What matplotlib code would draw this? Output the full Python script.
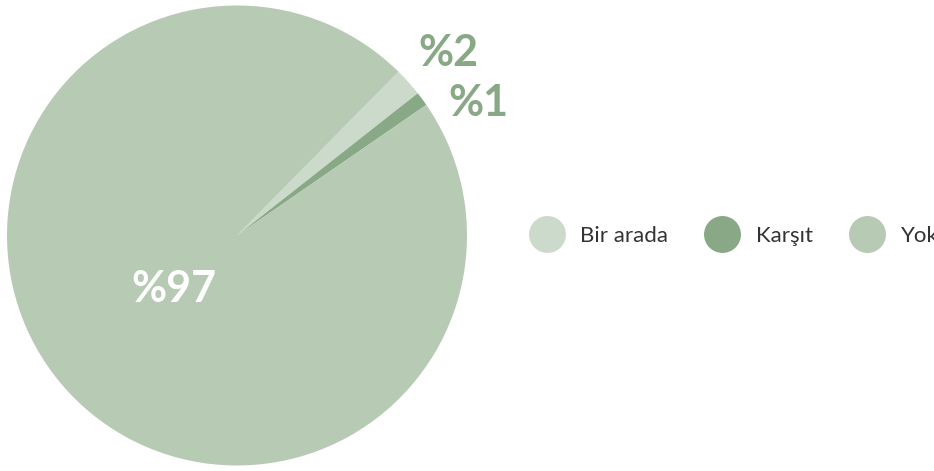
import numpy as np
import matplotlib
matplotlib.use("Agg")
import matplotlib.pyplot as plt
from matplotlib.lines import Line2D

categories = ["Bir arada", "Karşıt", "Yok"]
values = [2, 1, 97]
labels = ["%2", "%1", "%97"]
colors = ["#ccdacb", "#88a886", "#b7cab4"]

W, H = 934, 471
fig = plt.figure(figsize=(W / 100, H / 100), dpi=100)
cx, cy, r = 237, 235.5, 230
ax = fig.add_axes([(cx - r) / W, (H - cy - r) / H, 2 * r / W, 2 * r / H])
ax.set_aspect("equal")

wedges, _ = ax.pie(values, colors=colors, startangle=45.4, counterclock=False,
                   wedgeprops=dict(linewidth=0), radius=1.0)
ax.set_xlim(-1, 1)
ax.set_ylim(-1, 1)
ax.axis("off")

# labels placed from wedge angles
label_specs = [
    (0, 1.215, -1.0, "#88a886"),   # %2: outside
    (1, 1.196, -7.6, "#88a886"),   # %1: outside, nudged down
    (2, 0.36, 0.0, "white"),       # %97: inside
]
for idx, dist, dang, col in label_specs:
    w = wedges[idx]
    mid = np.deg2rad((w.theta1 + w.theta2) / 2 + dang)
    ax.text(dist * np.cos(mid), dist * np.sin(mid), labels[idx],
            ha="center", va="center", fontsize=31, fontweight="bold",
            family=["Lato", "DejaVu Sans"], color=col, clip_on=False)

handles = [Line2D([0], [0], marker="o", linestyle="none", markersize=26.6,
                  markerfacecolor=c, markeredgewidth=0) for c in colors]
leg = fig.legend(handles, categories, loc="center left",
                 bbox_to_anchor=(528 / W, 1 - cy / H), ncol=3, frameon=False,
                 handlelength=1.67, handletextpad=0.68,
                 columnspacing=1.6, borderpad=0, borderaxespad=0,
                 prop=dict(family="Lato", size=16))
for t in leg.get_texts():
    t.set_color("#333333")

fig.savefig("out.png", dpi=100)
